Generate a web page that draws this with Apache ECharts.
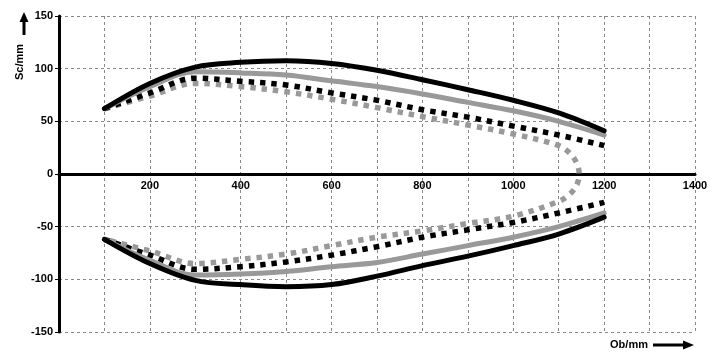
<!DOCTYPE html>
<html>
<head>
<meta charset="utf-8">
<script src="https://cdn.jsdelivr.net/npm/echarts@6/dist/echarts.min.js"></script>
<style>
  html, body { margin: 0; padding: 0; background: #fff; }
  #chart { width: 718px; height: 356px; }
</style>
</head>
<body>
<div id="chart"></div>
<script>
// x positions (mm) shared by the open curves
const xs = [100, 200, 300, 400, 500, 600, 700, 800, 900, 1000, 1100, 1200];

const blackSolidUp = [62, 86, 101.5, 106, 107.5, 105, 98.5, 89.5, 80, 70, 58, 41];
const blackSolidLow = [-62, -85, -101, -105, -107, -105, -97, -87, -78, -68, -57, -41];
const graySolidUp = [62, 83, 97, 96, 94, 88.5, 83, 76, 68, 60, 50, 37];
const graySolidLow = [-62, -82, -96, -95, -92.5, -88, -84, -76, -68, -60, -50, -37];
const blackDotUp = [62, 77, 91, 88, 84.5, 77, 70, 61, 54, 45.5, 37, 27];
const blackDotLow = [-62, -77, -90.5, -88, -83.5, -77, -69, -60, -53, -46, -37, -27];

// gray dotted curve is a closed loop: upper branch out, lower branch back
const grayLoopX = [100, 200, 300, 400, 500, 600, 700, 800, 900, 1000, 1100, 1125, 1140, 1145,
                   1140, 1125, 1100, 1000, 900, 800, 700, 600, 500, 400, 300, 200, 100];
const grayLoopY = [62, 74, 86, 83, 78, 71, 63, 54.5, 46.5, 38, 27, 19.5, 10, 0,
                   -10, -19, -26, -40, -47, -54, -60, -68, -76, -81, -85, -73, -62];

const xTicks = [200, 400, 600, 800, 1000, 1200, 1400];

const pair = (x, y) => x.map((v, i) => [v, y[i]]);

const font = '"Liberation Sans", Arial, sans-serif';
const dotDash = [5.5, 6];

function curve(data, color, dashed) {
  return {
    type: 'line',
    data: data,
    showSymbol: false,
    smooth: 0.35,
    animation: false,
    lineStyle: {
      color: color,
      width: dashed ? 5.5 : 5,
      type: dashed ? dotDash : 'solid',
      cap: dashed ? 'butt' : 'round',
      join: 'round'
    }
  };
}

const chart = echarts.init(document.getElementById('chart'));
chart.setOption({
  animation: false,
  grid: { left: 59, right: 23, top: 16, bottom: 24 },
  xAxis: {
    type: 'value',
    min: 0,
    max: 1400,
    interval: 100,
    position: 'bottom',
    offset: -158,
    axisLine: { onZero: false, lineStyle: { color: '#000', width: 3 } },
    axisTick: { show: false },
    axisLabel: {
      color: '#000',
      fontFamily: font,
      fontWeight: 'bold',
      fontSize: 11,
      margin: 6,
      formatter: v => (xTicks.includes(v) ? String(v) : '')
    },
    splitLine: { show: true, lineStyle: { color: '#888', width: 1, type: [3, 3] } }
  },
  yAxis: {
    type: 'value',
    min: -150,
    max: 150,
    interval: 50,
    axisLine: { onZero: false, lineStyle: { color: '#000', width: 3 } },
    axisTick: { show: true, length: 4, lineStyle: { color: '#000', width: 1 } },
    axisLabel: {
      color: '#000',
      fontFamily: font,
      fontWeight: 'bold',
      fontSize: 11,
      margin: 6
    },
    splitLine: { show: true, lineStyle: { color: '#888', width: 1, type: [3, 3] } }
  },
  series: [
    curve(pair(grayLoopX, grayLoopY), '#999', true),
    curve(pair(xs, blackDotUp), '#000', true),
    curve(pair(xs, blackDotLow), '#000', true),
    curve(pair(xs, graySolidUp), '#999', false),
    curve(pair(xs, graySolidLow), '#999', false),
    curve(pair(xs, blackSolidUp), '#000', false),
    curve(pair(xs, blackSolidLow), '#000', false)
  ],
  graphic: [
    {
      type: 'text',
      x: 20, y: 62,
      rotation: Math.PI / 2,
      style: {
        text: 'Sc/mm',
        fill: '#000',
        font: 'bold 11px ' + font,
        align: 'center',
        verticalAlign: 'middle'
      }
    },
    { type: 'line', shape: { x1: 24, y1: 35, x2: 24, y2: 20 }, style: { stroke: '#000', lineWidth: 3 } },
    { type: 'polygon', shape: { points: [[24, 12], [19.5, 22], [28.5, 22]] }, style: { fill: '#000' } },
    {
      type: 'text',
      x: 629, y: 345,
      style: {
        text: 'Ob/mm',
        fill: '#000',
        font: 'bold 11px ' + font,
        align: 'center',
        verticalAlign: 'middle'
      }
    },
    { type: 'line', shape: { x1: 653, y1: 345, x2: 684, y2: 345 }, style: { stroke: '#000', lineWidth: 3 } },
    { type: 'polygon', shape: { points: [[694, 345], [683, 340.5], [683, 349.5]] }, style: { fill: '#000' } }
  ]
});
</script>
</body>
</html>
